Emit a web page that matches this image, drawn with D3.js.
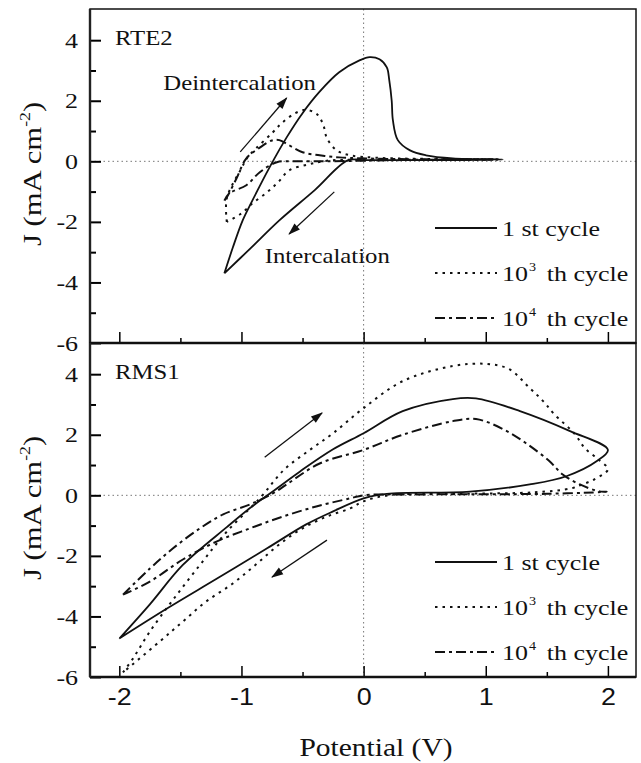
<!DOCTYPE html>
<html>
<head>
<meta charset="utf-8">
<script src="https://cdn.jsdelivr.net/npm/d3@7"></script>
<style>
  body { margin: 0; background: #fff; }
  text { fill: #111; }
</style>
</head>
<body>
<svg width="641" height="763"></svg>
<script>
// potential (V) vs current density (mA cm-2)
const xTicks = [-2, -1, 0, 1, 2];
const xMinor = [-1.5, -0.5, 0.5, 1.5];
const yTicks = [-6, -4, -2, 0, 2, 4];
const yMinor = [-5, -3, -1, 1, 3];

const legendBase = ["1 st cycle", "10", "10"];
const legendSup = ["", "3", "4"];
const legendTail = ["", "th cycle", "th cycle"];

// RTE2 panel
const rte2Cycle1 = [
  [-1.14,-3.70],[-1.07,-2.84],[-0.99,-1.95],[-0.91,-1.29],[-0.77,-0.20],[-0.63,0.79],
  [-0.50,1.59],[-0.36,2.30],[-0.20,2.94],[-0.03,3.34],[0.05,3.44],[0.13,3.37],[0.19,3.10],
  [0.21,2.68],[0.23,2.00],[0.24,1.35],[0.28,0.70],[0.38,0.36],[0.51,0.20],[0.73,0.10],
  [1.14,0.06],[0.60,0.04],[0.00,0.04],[-0.13,0.03],[-0.40,-0.95],[-0.69,-1.95],
  [-0.92,-2.85],[-1.14,-3.70]
];
const rte2Cycle1e3 = [
  [-1.12,-2.00],[-1.12,-1.22],[-1.00,-0.23],[-0.95,0.13],[-0.88,0.43],[-0.75,0.93],
  [-0.67,1.26],[-0.56,1.59],[-0.47,1.70],[-0.38,1.55],[-0.33,1.20],[-0.30,0.76],
  [-0.22,0.36],[-0.11,0.20],[0.10,0.12],[0.50,0.08],[1.10,0.06],[0.50,0.05],[-0.10,0.05],
  [-0.30,0.02],[-0.45,-0.10],[-0.61,-0.30],[-0.70,-0.69],[-0.79,-1.02],[-0.91,-1.39],
  [-1.01,-1.75],[-1.12,-2.00]
];
const rte2Cycle1e4 = [
  [-1.14,-1.30],[-1.12,-1.19],[-1.04,-0.56],[-0.96,0.10],[-0.85,0.45],[-0.75,0.69],
  [-0.69,0.70],[-0.61,0.53],[-0.50,0.30],[-0.36,0.20],[-0.20,0.13],[0.20,0.08],[1.10,0.06],
  [0.30,0.04],[-0.30,0.00],[-0.55,0.00],[-0.71,-0.03],[-0.85,-0.36],[-0.96,-0.79],
  [-1.10,-1.06],[-1.14,-1.30]
];

// RMS1 panel
const rms1Cycle1 = [
  [-2.00,-4.73],[-1.75,-3.60],[-1.48,-2.30],[-1.12,-1.05],[-0.93,-0.42],[-0.77,0.05],
  [-0.52,0.79],[-0.25,1.52],[0.00,2.05],[0.32,2.78],[0.73,3.18],[0.92,3.20],[1.28,2.78],
  [1.69,2.12],[2.00,1.50],[1.91,1.13],[1.66,0.63],[1.36,0.36],[0.87,0.12],[0.19,0.05],
  [0.00,-0.10],[-0.25,-0.53],[-0.47,-0.96],[-0.79,-1.75],[-1.20,-2.75],[-1.61,-3.74],
  [-2.00,-4.73]
];
const rms1Cycle1e3 = [
  [-1.97,-5.85],[-1.89,-5.40],[-1.75,-4.50],[-1.56,-3.45],[-1.34,-2.30],[-1.12,-1.20],
  [-0.85,-0.10],[-0.65,0.85],[-0.44,1.50],[-0.25,2.05],[0.00,2.88],[0.32,3.77],[0.73,4.27],
  [1.00,4.34],[1.19,4.17],[1.36,3.54],[1.47,3.11],[1.56,2.68],[1.73,2.02],[1.81,1.56],
  [1.92,1.19],[2.00,0.86],[1.89,0.53],[1.79,0.36],[1.70,0.23],[1.40,0.10],[0.80,0.05],
  [0.20,0.00],[0.00,-0.20],[-0.11,-0.43],[-0.30,-0.70],[-0.50,-1.09],[-0.69,-1.62],
  [-0.88,-2.28],[-1.07,-2.91],[-1.29,-3.51],[-1.48,-4.17],[-1.67,-4.83],[-1.97,-5.85]
];
const rms1Cycle1e4 = [
  [-1.97,-3.28],[-1.75,-2.42],[-1.56,-1.75],[-1.34,-1.09],[-1.15,-0.63],[-0.93,-0.30],
  [-0.74,0.07],[-0.63,0.36],[-0.36,1.05],[0.00,1.50],[0.32,2.00],[0.73,2.45],[0.92,2.52],
  [1.14,2.19],[1.33,1.72],[1.52,1.13],[1.63,0.69],[1.77,0.36],[1.93,0.13],[1.99,0.12],
  [1.50,0.05],[0.50,0.03],[0.00,0.00],[-0.11,-0.10],[-0.38,-0.36],[-0.66,-0.70],
  [-0.93,-1.09],[-1.20,-1.52],[-1.48,-2.12],[-1.75,-2.85],[-1.97,-3.28]
];

// arrows [from, to] in data units
const rte2Arrows = [[[-1.01,0.31],[-0.63,2.09]], [[-0.24,-1.01],[-0.61,-2.40]]];
const rms1Arrows = [[[-0.81,1.26],[-0.34,2.72]], [[-0.30,-1.48],[-0.75,-2.70]]];

const svg = d3.select("svg");
const serif = "'Liberation Serif', 'Times New Roman', serif";
const sans = "'Liberation Sans', Arial, sans-serif";
const sx = 1.18; // the original type is set a bit wide

const x = d3.scaleLinear().domain([-2.24, 2.23]).range([90, 636]);

const styles = [
  {dash: null, width: 1.8},
  {dash: "2.5,5", width: 2},
  {dash: "10,4,3,4", width: 2}
];

svg.append("defs").append("marker")
  .attr("id", "head")
  .attr("markerUnits", "userSpaceOnUse")
  .attr("viewBox", "0 -5 12 10")
  .attr("markerWidth", 13).attr("markerHeight", 10)
  .attr("refX", 11).attr("refY", 0)
  .attr("orient", "auto")
  .append("path").attr("d", "M0,-4L12,0L0,4Z").attr("fill", "#111");

function label(g, px, py, size, family, stretch) {
  return g.append("text")
    .attr("transform", `translate(${px},${py}) scale(${stretch},1)`)
    .attr("font-family", family)
    .attr("font-size", size);
}

function drawPanel(top, bottom, name, curves, arrows, notes, showXLabels) {
  const y = d3.scaleLinear().domain([-6, 5.03]).range([bottom, top]);
  const g = svg.append("g");

  // dotted zero lines
  g.append("line")
    .attr("x1", x.range()[0]).attr("x2", x.range()[1])
    .attr("y1", y(0)).attr("y2", y(0))
    .attr("stroke", "#777").attr("stroke-width", 1).attr("stroke-dasharray", "1.5,3");
  g.append("line")
    .attr("x1", x(0)).attr("x2", x(0))
    .attr("y1", top).attr("y2", bottom)
    .attr("stroke", "#777").attr("stroke-width", 1).attr("stroke-dasharray", "1.5,3");

  const line = d3.line()
    .x(d => x(d[0])).y(d => y(d[1]))
    .curve(d3.curveCatmullRom.alpha(0.5));

  curves.forEach((c, i) => {
    g.append("path")
      .datum(c)
      .attr("d", line)
      .attr("fill", "none")
      .attr("stroke", "#111")
      .attr("stroke-width", styles[i].width)
      .attr("stroke-dasharray", styles[i].dash)
      .attr("stroke-linejoin", "round");
  });

  arrows.forEach(a => {
    g.append("line")
      .attr("x1", x(a[0][0])).attr("y1", y(a[0][1]))
      .attr("x2", x(a[1][0])).attr("y2", y(a[1][1]))
      .attr("stroke", "#111").attr("stroke-width", 1.3)
      .attr("marker-end", "url(#head)");
  });

  // axes
  const yAxis = g.append("g").attr("transform", `translate(${x.range()[0]},0)`)
    .call(d3.axisLeft(y).tickValues(yTicks).tickSize(-11).tickPadding(0).tickFormat(d => String(d)));
  yAxis.select(".domain").remove();
  yAxis.selectAll("line").attr("stroke-width", 2);
  yAxis.selectAll("text")
    .attr("x", null)
    .attr("transform", `translate(-12,0) scale(${sx},1)`)
    .attr("font-family", serif).attr("font-size", 22).attr("fill", "#111");

  g.append("g").attr("transform", `translate(${x.range()[0]},0)`)
    .call(d3.axisLeft(y).tickValues(yMinor).tickSize(-6).tickFormat(""))
    .call(s => s.select(".domain").remove())
    .selectAll("line").attr("stroke-width", 2);

  const xAxis = g.append("g").attr("transform", `translate(0,${bottom})`)
    .call(d3.axisBottom(x).tickValues(xTicks).tickSize(-11).tickPadding(0)
      .tickFormat(showXLabels ? (d => String(d)) : ""));
  xAxis.select(".domain").remove();
  xAxis.selectAll("line").attr("stroke-width", 1.5);
  xAxis.selectAll("text")
    .attr("y", null)
    .attr("transform", `translate(0,11) scale(1.12,1)`)
    .attr("font-family", sans).attr("font-size", 24).attr("fill", "#111");

  g.append("g").attr("transform", `translate(0,${bottom})`)
    .call(d3.axisBottom(x).tickValues(xMinor).tickSize(-5).tickFormat(""))
    .call(s => s.select(".domain").remove())
    .selectAll("line").attr("stroke-width", 1.5);

  // frame
  g.append("rect")
    .attr("x", x.range()[0]).attr("y", top)
    .attr("width", x.range()[1] - x.range()[0]).attr("height", bottom - top)
    .attr("fill", "none").attr("stroke", "#111").attr("stroke-width", 1.5);
  g.append("line")
    .attr("x1", x.range()[0]).attr("x2", x.range()[1])
    .attr("y1", bottom).attr("y2", bottom)
    .attr("stroke", "#111").attr("stroke-width", 2.6);
  g.append("line")
    .attr("x1", x.range()[0]).attr("x2", x.range()[0])
    .attr("y1", top).attr("y2", bottom)
    .attr("stroke", "#222").attr("stroke-width", 2.4);

  // panel name
  label(g, 115, top + 36, 21, serif, sx).text(name);

  // y title
  const t = g.append("text")
    .attr("transform", `translate(41,${top + 165}) rotate(-90) scale(${sx},1)`)
    .attr("text-anchor", "middle")
    .attr("font-family", serif).attr("font-size", 26);
  t.append("tspan").text("J (mA cm");
  t.append("tspan").attr("font-size", 15).attr("dy", -11).text("-2");
  t.append("tspan").attr("dy", 11).text(")");

  // legend
  const rows = [219, 264, 309];
  rows.forEach((r, i) => {
    g.append("line")
      .attr("x1", 435).attr("x2", 497)
      .attr("y1", top + r).attr("y2", top + r)
      .attr("stroke", "#111")
      .attr("stroke-width", styles[i].width)
      .attr("stroke-dasharray", styles[i].dash);
    const lt = label(g, 502, top + r + 8, 22, serif, sx);
    lt.append("tspan").text(legendBase[i]);
    if (legendSup[i]) {
      lt.append("tspan").attr("font-size", 12).attr("dy", -10).attr("dx", 1).text(legendSup[i]);
      lt.append("tspan").attr("dy", 10).attr("dx", 9).text(legendTail[i]);
    }
  });

  notes.forEach(n => {
    label(g, x(n.v), y(n.j), 21, serif, sx).text(n.text);
  });
}

drawPanel(9, 343, "RTE2", [rte2Cycle1, rte2Cycle1e3, rte2Cycle1e4], rte2Arrows,
  [{text: "Deintercalation", v: -1.64, j: 2.35}, {text: "Intercalation", v: -0.81, j: -3.35}], false);
drawPanel(343, 677, "RMS1", [rms1Cycle1, rms1Cycle1e3, rms1Cycle1e4], rms1Arrows, [], true);

// x title
label(svg, 376, 756, 25, serif, sx).attr("text-anchor", "middle").text("Potential (V)");
</script>
</body>
</html>
